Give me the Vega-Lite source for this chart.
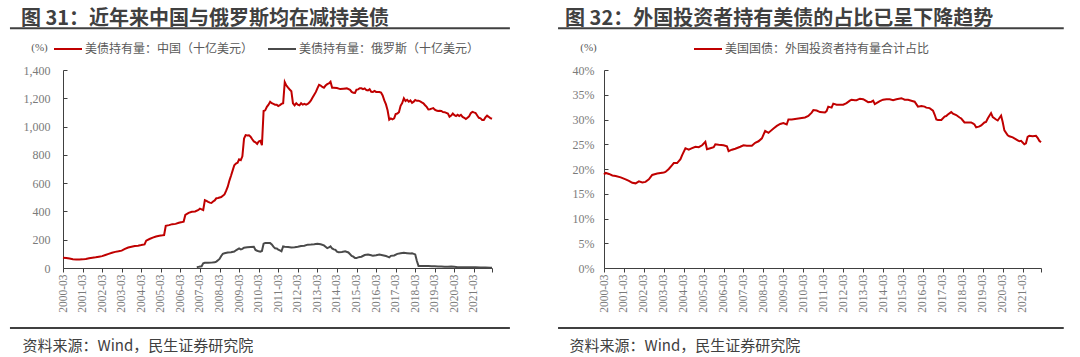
{
"$schema": "https://vega.github.io/schema/vega-lite/v6.json",
"background": "white",
"padding": {"left": 8, "top": 9, "right": 0, "bottom": 0},
"config": {
  "view": {"stroke": null},
  "font": "Noto Sans CJK SC",
  "axis": {"grid": false, "domainColor": "#404040", "tickColor": "#404040", "labelFont": "Liberation Serif", "labelColor": "#7a7a7a", "labelOverlap": false, "labelFlush": false},
  "legend": {"padding": 0}
},
"resolve": {"scale": {"color": "independent"}, "legend": {"color": "independent"}},
"spacing": 46,
"datasets": {
"cn": [
{"d":"2000-03","v":73},{"d":"2000-05","v":71},{"d":"2000-07","v":67},{"d":"2000-09","v":62},{"d":"2000-11","v":60},{"d":"2001-01","v":60},{"d":"2001-03","v":61},{"d":"2001-05","v":64},{"d":"2001-07","v":69},{"d":"2001-09","v":73},{"d":"2001-11","v":76},{"d":"2002-01","v":80},{"d":"2002-03","v":84},{"d":"2002-05","v":92},{"d":"2002-07","v":100},{"d":"2002-09","v":108},{"d":"2002-11","v":114},{"d":"2003-01","v":118},{"d":"2003-03","v":123},{"d":"2003-05","v":135},{"d":"2003-07","v":145},{"d":"2003-09","v":150},{"d":"2003-11","v":155},{"d":"2004-01","v":158},{"d":"2004-03","v":162},{"d":"2004-05","v":167},{"d":"2004-06","v":193},{"d":"2004-08","v":205},{"d":"2004-10","v":215},{"d":"2004-12","v":223},{"d":"2005-02","v":228},{"d":"2005-04","v":231},{"d":"2005-05","v":233},{"d":"2005-06","v":298},{"d":"2005-08","v":303},{"d":"2005-10","v":310},{"d":"2005-12","v":312},{"d":"2006-02","v":320},{"d":"2006-04","v":325},{"d":"2006-05","v":328},{"d":"2006-06","v":375},{"d":"2006-08","v":390},{"d":"2006-10","v":398},{"d":"2006-12","v":400},{"d":"2007-02","v":410},{"d":"2007-03","v":420},{"d":"2007-04","v":415},{"d":"2007-05","v":410},{"d":"2007-06","v":480},{"d":"2007-07","v":475},{"d":"2007-08","v":468},{"d":"2007-09","v":462},{"d":"2007-10","v":460},{"d":"2007-11","v":470},{"d":"2007-12","v":478},{"d":"2008-01","v":493},{"d":"2008-02","v":495},{"d":"2008-04","v":502},{"d":"2008-06","v":520},{"d":"2008-07","v":545},{"d":"2008-08","v":575},{"d":"2008-09","v":618},{"d":"2008-10","v":652},{"d":"2008-11","v":690},{"d":"2008-12","v":727},{"d":"2009-01","v":739},{"d":"2009-02","v":744},{"d":"2009-03","v":768},{"d":"2009-04","v":763},{"d":"2009-05","v":790},{"d":"2009-06","v":915},{"d":"2009-07","v":940},{"d":"2009-08","v":937},{"d":"2009-09","v":938},{"d":"2009-10","v":929},{"d":"2009-11","v":910},{"d":"2009-12","v":895},{"d":"2010-01","v":889},{"d":"2010-02","v":877},{"d":"2010-03","v":895},{"d":"2010-04","v":900},{"d":"2010-05","v":868},{"d":"2010-06","v":1110},{"d":"2010-07","v":1115},{"d":"2010-08","v":1140},{"d":"2010-09","v":1155},{"d":"2010-10","v":1175},{"d":"2010-11","v":1165},{"d":"2010-12","v":1160},{"d":"2011-01","v":1155},{"d":"2011-02","v":1154},{"d":"2011-03","v":1145},{"d":"2011-04","v":1152},{"d":"2011-05","v":1160},{"d":"2011-06","v":1165},{"d":"2011-07","v":1315},{"d":"2011-08","v":1290},{"d":"2011-09","v":1275},{"d":"2011-10","v":1262},{"d":"2011-11","v":1250},{"d":"2011-12","v":1165},{"d":"2012-01","v":1150},{"d":"2012-02","v":1165},{"d":"2012-03","v":1155},{"d":"2012-04","v":1150},{"d":"2012-05","v":1165},{"d":"2012-06","v":1155},{"d":"2012-07","v":1160},{"d":"2012-08","v":1155},{"d":"2012-09","v":1160},{"d":"2012-10","v":1170},{"d":"2012-11","v":1185},{"d":"2012-12","v":1205},{"d":"2013-01","v":1225},{"d":"2013-02","v":1245},{"d":"2013-03","v":1270},{"d":"2013-04","v":1295},{"d":"2013-05","v":1290},{"d":"2013-06","v":1280},{"d":"2013-07","v":1275},{"d":"2013-08","v":1290},{"d":"2013-09","v":1300},{"d":"2013-10","v":1305},{"d":"2013-11","v":1317},{"d":"2013-12","v":1275},{"d":"2014-01","v":1275},{"d":"2014-03","v":1272},{"d":"2014-05","v":1265},{"d":"2014-07","v":1268},{"d":"2014-09","v":1270},{"d":"2014-11","v":1260},{"d":"2014-12","v":1245},{"d":"2015-01","v":1239},{"d":"2015-02","v":1238},{"d":"2015-03","v":1261},{"d":"2015-04","v":1263},{"d":"2015-05","v":1271},{"d":"2015-06","v":1271},{"d":"2015-07","v":1265},{"d":"2015-08","v":1270},{"d":"2015-09","v":1258},{"d":"2015-10","v":1255},{"d":"2015-11","v":1264},{"d":"2015-12","v":1246},{"d":"2016-01","v":1245},{"d":"2016-02","v":1252},{"d":"2016-03","v":1245},{"d":"2016-04","v":1244},{"d":"2016-05","v":1244},{"d":"2016-06","v":1240},{"d":"2016-07","v":1220},{"d":"2016-08","v":1185},{"d":"2016-09","v":1157},{"d":"2016-10","v":1115},{"d":"2016-11","v":1049},{"d":"2016-12","v":1058},{"d":"2017-01","v":1051},{"d":"2017-02","v":1058},{"d":"2017-03","v":1088},{"d":"2017-04","v":1092},{"d":"2017-05","v":1102},{"d":"2017-06","v":1147},{"d":"2017-07","v":1166},{"d":"2017-08","v":1200},{"d":"2017-09","v":1180},{"d":"2017-10","v":1189},{"d":"2017-11","v":1176},{"d":"2017-12","v":1185},{"d":"2018-01","v":1168},{"d":"2018-02","v":1176},{"d":"2018-03","v":1188},{"d":"2018-04","v":1182},{"d":"2018-05","v":1183},{"d":"2018-06","v":1178},{"d":"2018-07","v":1171},{"d":"2018-08","v":1165},{"d":"2018-09","v":1151},{"d":"2018-10","v":1139},{"d":"2018-11","v":1121},{"d":"2018-12","v":1123},{"d":"2019-01","v":1127},{"d":"2019-02","v":1131},{"d":"2019-03","v":1120},{"d":"2019-04","v":1113},{"d":"2019-05","v":1110},{"d":"2019-06","v":1112},{"d":"2019-07","v":1110},{"d":"2019-08","v":1103},{"d":"2019-09","v":1102},{"d":"2019-10","v":1097},{"d":"2019-11","v":1092},{"d":"2019-12","v":1070},{"d":"2020-01","v":1078},{"d":"2020-02","v":1092},{"d":"2020-03","v":1081},{"d":"2020-04","v":1074},{"d":"2020-05","v":1083},{"d":"2020-06","v":1074},{"d":"2020-07","v":1083},{"d":"2020-08","v":1068},{"d":"2020-09","v":1062},{"d":"2020-10","v":1053},{"d":"2020-11","v":1063},{"d":"2020-12","v":1072},{"d":"2021-01","v":1095},{"d":"2021-02","v":1104},{"d":"2021-03","v":1100},{"d":"2021-04","v":1096},{"d":"2021-05","v":1078},{"d":"2021-06","v":1062},{"d":"2021-07","v":1058},{"d":"2021-08","v":1047},{"d":"2021-09","v":1047},{"d":"2021-10","v":1065},{"d":"2021-11","v":1077},{"d":"2021-12","v":1069},{"d":"2022-01","v":1060},{"d":"2022-02","v":1055}
],
"ru": [
{"d":"2007-01","v":6},{"d":"2007-02","v":8},{"d":"2007-03","v":10},{"d":"2007-04","v":12},{"d":"2007-05","v":33},{"d":"2007-06","v":37},{"d":"2007-08","v":37},{"d":"2007-10","v":38},{"d":"2007-12","v":40},{"d":"2008-01","v":45},{"d":"2008-02","v":55},{"d":"2008-03","v":64},{"d":"2008-04","v":85},{"d":"2008-05","v":100},{"d":"2008-06","v":104},{"d":"2008-08","v":110},{"d":"2008-10","v":112},{"d":"2008-12","v":116},{"d":"2009-01","v":125},{"d":"2009-03","v":138},{"d":"2009-04","v":132},{"d":"2009-05","v":135},{"d":"2009-06","v":144},{"d":"2009-08","v":146},{"d":"2009-10","v":148},{"d":"2009-12","v":150},{"d":"2010-01","v":128},{"d":"2010-02","v":122},{"d":"2010-03","v":118},{"d":"2010-04","v":115},{"d":"2010-05","v":120},{"d":"2010-06","v":172},{"d":"2010-07","v":176},{"d":"2010-08","v":176},{"d":"2010-09","v":176},{"d":"2010-10","v":176},{"d":"2010-11","v":167},{"d":"2010-12","v":151},{"d":"2011-01","v":140},{"d":"2011-02","v":138},{"d":"2011-03","v":130},{"d":"2011-04","v":125},{"d":"2011-05","v":118},{"d":"2011-06","v":152},{"d":"2011-07","v":150},{"d":"2011-09","v":148},{"d":"2011-11","v":145},{"d":"2012-01","v":147},{"d":"2012-03","v":150},{"d":"2012-05","v":155},{"d":"2012-07","v":158},{"d":"2012-09","v":165},{"d":"2012-11","v":166},{"d":"2013-01","v":168},{"d":"2013-03","v":172},{"d":"2013-05","v":168},{"d":"2013-07","v":160},{"d":"2013-08","v":150},{"d":"2013-09","v":140},{"d":"2013-10","v":145},{"d":"2013-11","v":153},{"d":"2013-12","v":138},{"d":"2014-01","v":132},{"d":"2014-02","v":128},{"d":"2014-03","v":115},{"d":"2014-04","v":112},{"d":"2014-06","v":113},{"d":"2014-08","v":118},{"d":"2014-10","v":110},{"d":"2014-12","v":86},{"d":"2015-01","v":80},{"d":"2015-02","v":70},{"d":"2015-03","v":70},{"d":"2015-04","v":75},{"d":"2015-05","v":78},{"d":"2015-06","v":80},{"d":"2015-08","v":92},{"d":"2015-10","v":95},{"d":"2015-12","v":90},{"d":"2016-01","v":86},{"d":"2016-03","v":90},{"d":"2016-05","v":95},{"d":"2016-07","v":90},{"d":"2016-09","v":85},{"d":"2016-10","v":80},{"d":"2016-11","v":75},{"d":"2016-12","v":86},{"d":"2017-02","v":89},{"d":"2017-04","v":100},{"d":"2017-06","v":105},{"d":"2017-08","v":108},{"d":"2017-10","v":105},{"d":"2017-12","v":102},{"d":"2018-01","v":104},{"d":"2018-02","v":100},{"d":"2018-03","v":96},{"d":"2018-04","v":49},{"d":"2018-05","v":15},{"d":"2018-07","v":15},{"d":"2018-09","v":15},{"d":"2018-11","v":14},{"d":"2019-01","v":13},{"d":"2019-03","v":13},{"d":"2019-05","v":11},{"d":"2019-07","v":10},{"d":"2019-09","v":9},{"d":"2019-11","v":9},{"d":"2020-01","v":10},{"d":"2020-03","v":8},{"d":"2020-05","v":6},{"d":"2020-07","v":6},{"d":"2020-09","v":6},{"d":"2020-11","v":5},{"d":"2021-01","v":5},{"d":"2021-04","v":5},{"d":"2021-07","v":4},{"d":"2021-10","v":3},{"d":"2022-01","v":2},{"d":"2022-02","v":2}
],
"sh": [
{"d":"2000-03","v":18.9},{"d":"2000-04","v":19.2},{"d":"2000-06","v":19.0},{"d":"2000-08","v":18.7},{"d":"2000-10","v":18.6},{"d":"2001-01","v":18.3},{"d":"2001-04","v":17.9},{"d":"2001-06","v":17.6},{"d":"2001-08","v":17.2},{"d":"2001-10","v":17.1},{"d":"2001-12","v":17.5},{"d":"2002-02","v":17.3},{"d":"2002-04","v":17.4},{"d":"2002-06","v":17.9},{"d":"2002-08","v":18.8},{"d":"2002-11","v":19.1},{"d":"2003-03","v":19.3},{"d":"2003-04","v":19.4},{"d":"2003-06","v":20.0},{"d":"2003-08","v":20.8},{"d":"2003-09","v":21.2},{"d":"2003-11","v":21.2},{"d":"2004-01","v":22.0},{"d":"2004-02","v":22.8},{"d":"2004-04","v":24.2},{"d":"2004-06","v":23.9},{"d":"2004-08","v":24.2},{"d":"2004-10","v":24.5},{"d":"2004-12","v":24.4},{"d":"2005-02","v":24.8},{"d":"2005-04","v":25.5},{"d":"2005-05","v":24.0},{"d":"2005-07","v":24.2},{"d":"2005-09","v":24.4},{"d":"2005-10","v":25.0},{"d":"2005-12","v":24.9},{"d":"2006-03","v":24.8},{"d":"2006-05","v":24.6},{"d":"2006-06","v":23.6},{"d":"2006-08","v":23.9},{"d":"2006-10","v":24.1},{"d":"2007-01","v":24.5},{"d":"2007-03","v":24.8},{"d":"2007-05","v":24.7},{"d":"2007-08","v":24.7},{"d":"2007-10","v":25.3},{"d":"2007-12","v":25.6},{"d":"2008-02","v":26.2},{"d":"2008-04","v":27.7},{"d":"2008-06","v":27.3},{"d":"2008-07","v":27.6},{"d":"2008-09","v":28.2},{"d":"2008-11","v":28.7},{"d":"2009-01","v":29.1},{"d":"2009-03","v":29.3},{"d":"2009-05","v":29.0},{"d":"2009-06","v":30.0},{"d":"2009-08","v":30.0},{"d":"2009-10","v":30.1},{"d":"2009-12","v":30.2},{"d":"2010-02","v":30.3},{"d":"2010-04","v":30.4},{"d":"2010-06","v":30.7},{"d":"2010-08","v":31.4},{"d":"2010-09","v":31.9},{"d":"2010-11","v":31.8},{"d":"2011-01","v":31.5},{"d":"2011-04","v":31.4},{"d":"2011-05","v":31.7},{"d":"2011-06","v":32.6},{"d":"2011-08","v":32.4},{"d":"2011-09","v":33.2},{"d":"2011-11","v":33.0},{"d":"2012-01","v":33.0},{"d":"2012-03","v":33.0},{"d":"2012-05","v":33.3},{"d":"2012-07","v":33.8},{"d":"2012-08","v":34.0},{"d":"2012-10","v":33.9},{"d":"2012-11","v":33.9},{"d":"2013-01","v":34.2},{"d":"2013-03","v":34.1},{"d":"2013-04","v":33.9},{"d":"2013-06","v":33.5},{"d":"2013-08","v":33.6},{"d":"2013-09","v":33.8},{"d":"2013-10","v":33.1},{"d":"2013-12","v":33.5},{"d":"2014-01","v":33.7},{"d":"2014-03","v":34.0},{"d":"2014-05","v":34.1},{"d":"2014-07","v":34.1},{"d":"2014-09","v":33.9},{"d":"2014-11","v":34.1},{"d":"2015-02","v":34.3},{"d":"2015-04","v":34.0},{"d":"2015-06","v":34.0},{"d":"2015-07","v":33.9},{"d":"2015-09","v":33.7},{"d":"2015-10","v":33.6},{"d":"2015-12","v":32.6},{"d":"2016-02","v":32.7},{"d":"2016-04","v":32.6},{"d":"2016-05","v":32.4},{"d":"2016-07","v":32.3},{"d":"2016-09","v":31.8},{"d":"2016-10","v":31.0},{"d":"2016-11","v":30.0},{"d":"2016-12","v":29.9},{"d":"2017-02","v":29.9},{"d":"2017-04","v":30.6},{"d":"2017-05","v":30.7},{"d":"2017-06","v":31.0},{"d":"2017-08","v":31.5},{"d":"2017-09","v":31.2},{"d":"2017-11","v":30.9},{"d":"2018-01","v":30.4},{"d":"2018-02","v":30.2},{"d":"2018-04","v":29.4},{"d":"2018-06","v":29.4},{"d":"2018-08","v":29.4},{"d":"2018-09","v":29.2},{"d":"2018-10","v":29.0},{"d":"2018-11","v":28.4},{"d":"2019-01","v":28.6},{"d":"2019-02","v":28.8},{"d":"2019-04","v":29.4},{"d":"2019-05","v":29.5},{"d":"2019-06","v":30.2},{"d":"2019-08","v":31.3},{"d":"2019-09","v":30.5},{"d":"2019-11","v":30.0},{"d":"2019-12","v":29.8},{"d":"2020-02","v":30.8},{"d":"2020-03","v":29.5},{"d":"2020-04","v":27.8},{"d":"2020-06","v":26.8},{"d":"2020-07","v":26.6},{"d":"2020-09","v":26.4},{"d":"2020-11","v":26.0},{"d":"2020-12","v":25.8},{"d":"2021-01","v":25.6},{"d":"2021-02","v":25.7},{"d":"2021-04","v":25.0},{"d":"2021-05","v":25.2},{"d":"2021-06","v":26.5},{"d":"2021-07","v":26.7},{"d":"2021-09","v":26.6},{"d":"2021-11","v":26.7},{"d":"2021-12","v":26.3},{"d":"2022-01","v":25.7},{"d":"2022-02","v":25.4}
]
},
"hconcat": [
{
  "width": 429, "height": 198,
  "title": {"text": "图 31：近年来中国与俄罗斯均在减持美债", "anchor": "start", "frame": "bounds", "dx": 12, "offset": -18, "baseline": "alphabetic", "fontSize": 20, "fontWeight": "bold", "color": "#404040", "font": "Noto Sans CJK SC"},
  "layer": [
    {"data": {"name": "cn"}, "mark": {"type": "line", "strokeWidth": 2},
     "encoding": {
       "x": {"field": "d", "type": "temporal",
             "scale": {"type": "utc", "domain": [{"year": 2000, "month": 3, "date": 1, "utc": true}, {"year": 2022, "month": 2, "date": 1, "utc": true}]},
             "axis": {"values": [{"year":2000,"month":3,"date":1,"utc":true},{"year":2001,"month":3,"date":1,"utc":true},{"year":2002,"month":3,"date":1,"utc":true},{"year":2003,"month":3,"date":1,"utc":true},{"year":2004,"month":3,"date":1,"utc":true},{"year":2005,"month":3,"date":1,"utc":true},{"year":2006,"month":3,"date":1,"utc":true},{"year":2007,"month":3,"date":1,"utc":true},{"year":2008,"month":3,"date":1,"utc":true},{"year":2009,"month":3,"date":1,"utc":true},{"year":2010,"month":3,"date":1,"utc":true},{"year":2011,"month":3,"date":1,"utc":true},{"year":2012,"month":3,"date":1,"utc":true},{"year":2013,"month":3,"date":1,"utc":true},{"year":2014,"month":3,"date":1,"utc":true},{"year":2015,"month":3,"date":1,"utc":true},{"year":2016,"month":3,"date":1,"utc":true},{"year":2017,"month":3,"date":1,"utc":true},{"year":2018,"month":3,"date":1,"utc":true},{"year":2019,"month":3,"date":1,"utc":true},{"year":2020,"month":3,"date":1,"utc":true},{"year":2021,"month":3,"date":1,"utc":true},{"year":2022,"month":2,"date":1,"utc":true}],
                      "tickCount": 100,
                      "format": "%Y-%m", "labelExpr": "utcmonth(datum.value) == 2 ? datum.label : ''", "labelOverlap": false, "labelBound": false,
                      "labelAngle": -90, "labelFontSize": 11.5, "tickSize": 4, "labelPadding": 2,
                      "title": "资料来源：Wind，民生证券研究院", "titleX": -41, "titleY": 82, "titleAlign": "left", "titleBaseline": "alphabetic",
                      "titleFont": "Noto Sans CJK SC", "titleFontSize": 15, "titleFontWeight": "normal", "titleColor": "#404040"}},
       "y": {"field": "v", "type": "quantitative", "scale": {"domain": [0, 1400], "nice": false},
             "axis": {"values": [0, 200, 400, 600, 800, 1000, 1200, 1400], "tickCount": 100, "format": ",d", "labelOverlap": false, "labelFontSize": 12, "tickSize": -4, "labelPadding": 17,
                      "title": "(%)", "titleAngle": 0, "titleX": -24, "titleY": -23, "titleAlign": "center", "titleBaseline": "middle",
                      "titleFont": "Liberation Serif", "titleFontSize": 11, "titleFontWeight": "normal", "titleColor": "#595959"}},
       "color": {"datum": "美债持有量：中国（十亿美元）",
                 "scale": {"domain": ["美债持有量：中国（十亿美元）", "美债持有量：俄罗斯（十亿美元）"], "range": ["#C00000", "#4a4a4a"]},
                 "legend": {"orient": "none", "legendX": -10, "legendY": -36, "direction": "horizontal", "title": null,
                            "symbolType": "stroke", "symbolStrokeWidth": 2, "symbolSize": 784,
                            "labelFont": "Noto Sans CJK SC", "labelFontSize": 12, "labelColor": "#595959", "labelLimit": 400, "labelOffset": 2, "columnPadding": 10}}
     }},
    {"data": {"name": "ru"}, "mark": {"type": "line", "strokeWidth": 2},
     "encoding": {
       "x": {"field": "d", "type": "temporal"},
       "y": {"field": "v", "type": "quantitative"},
       "color": {"datum": "美债持有量：俄罗斯（十亿美元）"}
     }},
    {"data": {"values": [{}]}, "mark": {"type": "rule", "strokeWidth": 2, "color": "#404040"},
     "encoding": {
       "x": {"datum": {"year": 1997, "month": 6, "date": 15, "utc": true}, "type": "temporal"},
       "x2": {"datum": {"year": 2023, "month": 1, "date": 1, "utc": true}},
       "y": {"datum": 1695}
     }},
    {"data": {"values": [{}]}, "mark": {"type": "rule", "strokeWidth": 2, "color": "#404040"},
     "encoding": {
       "x": {"datum": {"year": 1997, "month": 6, "date": 15, "utc": true}, "type": "temporal"},
       "x2": {"datum": {"year": 2023, "month": 1, "date": 1, "utc": true}},
       "y": {"datum": -424}
     }}
  ]
},
{
  "width": 437, "height": 198,
  "title": {"text": "图 32：外国投资者持有美债的占比已呈下降趋势", "anchor": "start", "frame": "bounds", "dx": 8, "offset": -18, "baseline": "alphabetic", "fontSize": 20, "fontWeight": "bold", "color": "#404040", "font": "Noto Sans CJK SC"},
  "layer": [
    {"data": {"name": "sh"}, "mark": {"type": "line", "strokeWidth": 2},
     "encoding": {
       "x": {"field": "d", "type": "temporal",
             "scale": {"type": "utc", "domain": [{"year": 2000, "month": 3, "date": 1, "utc": true}, {"year": 2022, "month": 2, "date": 1, "utc": true}]},
             "axis": {"values": [{"year":2000,"month":3,"date":1,"utc":true},{"year":2001,"month":3,"date":1,"utc":true},{"year":2002,"month":3,"date":1,"utc":true},{"year":2003,"month":3,"date":1,"utc":true},{"year":2004,"month":3,"date":1,"utc":true},{"year":2005,"month":3,"date":1,"utc":true},{"year":2006,"month":3,"date":1,"utc":true},{"year":2007,"month":3,"date":1,"utc":true},{"year":2008,"month":3,"date":1,"utc":true},{"year":2009,"month":3,"date":1,"utc":true},{"year":2010,"month":3,"date":1,"utc":true},{"year":2011,"month":3,"date":1,"utc":true},{"year":2012,"month":3,"date":1,"utc":true},{"year":2013,"month":3,"date":1,"utc":true},{"year":2014,"month":3,"date":1,"utc":true},{"year":2015,"month":3,"date":1,"utc":true},{"year":2016,"month":3,"date":1,"utc":true},{"year":2017,"month":3,"date":1,"utc":true},{"year":2018,"month":3,"date":1,"utc":true},{"year":2019,"month":3,"date":1,"utc":true},{"year":2020,"month":3,"date":1,"utc":true},{"year":2021,"month":3,"date":1,"utc":true},{"year":2022,"month":2,"date":1,"utc":true}],
                      "tickCount": 100,
                      "format": "%Y-%m", "labelExpr": "utcmonth(datum.value) == 2 ? datum.label : ''", "labelOverlap": false, "labelBound": false,
                      "labelAngle": -90, "labelFontSize": 11.5, "tickSize": 4, "labelPadding": 2,
                      "title": "资料来源：Wind，民生证券研究院", "titleX": -35, "titleY": 82, "titleAlign": "left", "titleBaseline": "alphabetic",
                      "titleFont": "Noto Sans CJK SC", "titleFontSize": 15, "titleFontWeight": "normal", "titleColor": "#404040"}},
       "y": {"field": "v", "type": "quantitative", "scale": {"domain": [0, 40], "nice": false},
             "axis": {"values": [0, 5, 10, 15, 20, 25, 30, 35, 40], "tickCount": 100, "labelExpr": "datum.value + '%'", "labelOverlap": false, "labelFontSize": 12, "tickSize": -4, "labelPadding": 14,
                      "title": "(%)", "titleAngle": 0, "titleX": -16, "titleY": -23, "titleAlign": "center", "titleBaseline": "middle",
                      "titleFont": "Liberation Serif", "titleFontSize": 11, "titleFontWeight": "normal", "titleColor": "#595959"}},
       "color": {"datum": "美国国债：外国投资者持有量合计占比",
                 "scale": {"domain": ["美国国债：外国投资者持有量合计占比"], "range": ["#C00000"]},
                 "legend": {"orient": "none", "legendX": 89, "legendY": -36, "direction": "horizontal", "title": null,
                            "symbolType": "stroke", "symbolStrokeWidth": 2, "symbolSize": 784,
                            "labelFont": "Noto Sans CJK SC", "labelFontSize": 12, "labelColor": "#595959", "labelLimit": 400, "labelOffset": 2}}
     }},
    {"data": {"values": [{}]}, "mark": {"type": "rule", "strokeWidth": 2, "color": "#404040"},
     "encoding": {
       "x": {"datum": {"year": 1997, "month": 11, "date": 10, "utc": true}, "type": "temporal"},
       "x2": {"datum": {"year": 2023, "month": 3, "date": 25, "utc": true}},
       "y": {"datum": 48.42}
     }},
    {"data": {"values": [{}]}, "mark": {"type": "rule", "strokeWidth": 2, "color": "#404040"},
     "encoding": {
       "x": {"datum": {"year": 1997, "month": 11, "date": 10, "utc": true}, "type": "temporal"},
       "x2": {"datum": {"year": 2023, "month": 3, "date": 25, "utc": true}},
       "y": {"datum": -12.12}
     }}
  ]
}
]
}
